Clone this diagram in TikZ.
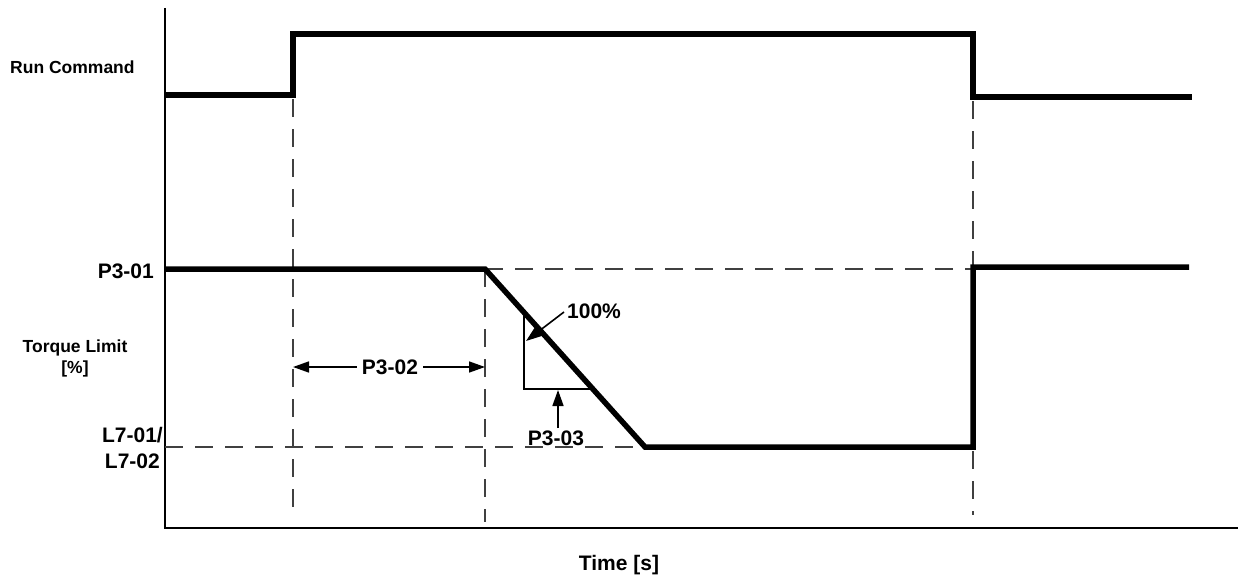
\documentclass[tikz,border=0pt]{standalone}
\usepackage{fontspec}
\setmainfont{Liberation Sans}
\usetikzlibrary{arrows.meta}
\begin{document}
\begin{tikzpicture}[x=1pt,y=-1pt,
  sig/.style={line width=5.5pt, line join=miter},
  axisline/.style={line width=2.8pt},
  guide/.style={line width=1.4pt, dash pattern=on 18pt off 12pt, draw=black!75},
  thinline/.style={line width=1.5pt},
  dim/.style={line width=1.6pt, -{Triangle[length=16pt,width=11pt]}},
  lbl/.style={font=\fontsize{21}{24}\selectfont\bfseries, inner sep=0pt},
  slbl/.style={font=\fontsize{17.5}{21}\selectfont\bfseries, inner sep=0pt}]
\useasboundingbox (0,0) rectangle (1238,578);
% axes
\coordinate (ytop) at (165,8);
\coordinate (o) at (165,528);
\coordinate (xend) at (1238,528);
\draw[axisline] (ytop) -- (o) -- (xend);
% key coordinates
\coordinate (r0) at (165,95);
\coordinate (r1) at (293,95);
\coordinate (r2) at (293,34);
\coordinate (r3) at (973,34);
\coordinate (r4) at (973,97);
\coordinate (r5) at (1192,97);
\coordinate (t0) at (165,269);
\coordinate (t1) at (485,269);
\coordinate (t2) at (645,447);
\coordinate (t3) at (973,447);
\coordinate (t4) at (973,267);
\coordinate (t5) at (1189,267);
% guides
\coordinate (g1a) at (293,99);
\coordinate (g1b) at (293,515);
\coordinate (g2b) at (485,522);
\coordinate (g3a) at (973,101);
\coordinate (g3b) at (973,265);
\coordinate (g4a) at (973,451);
\coordinate (g4b) at (973,515);
\coordinate (h1b) at (973,269);
\coordinate (h2a) at (165,447);
\draw[guide] (g1a) -- (g1b);
\draw[guide] (t1) -- (g2b);
\draw[guide] (g3a) -- (g3b);
\draw[guide] (g4a) -- (g4b);
\draw[guide] (t1) -- (h1b);
\draw[guide] (h2a) -- (t2);
% signals
\draw[sig] (r0) -- (r1) -- (r2) -- (r3) -- (r4) -- (r5);
\draw[sig] (t0) -- (t1) -- (t2) -- (t3) -- (t4) -- (t5);
% P3-02 dimension
\node[lbl, inner xsep=5pt] (p302) at (390,367) {P3-02};
\coordinate (d1) at (293,367);
\coordinate (d2) at (485,367);
\draw[dim] (p302.west) -- (d1);
\draw[dim] (p302.east) -- (d2);
% slope triangle
\coordinate (s1) at (524,312);
\coordinate (s2) at (524,389);
\coordinate (s3) at (593,389);
\draw[thinline] (s1) -- (s2) -- (s3);
% 100% label
\node[lbl, anchor=base west] (pct) at (567,318) {100\%};
\coordinate (pa) at (564,312);
\coordinate (pb) at (526,341);
\draw[dim] (pa) -- (pb);
% P3-03 label
\node[lbl, anchor=base] (p303) at (556,445) {P3-03};
\coordinate (qa) at (558,428);
\coordinate (qb) at (558,390);
\draw[dim] (qa) -- (qb);
% axis labels
\node[slbl, anchor=base west] (run) at (10,73) {Run Command};
\node[lbl, anchor=base east] (p301) at (154,278) {P3-01};
\node[slbl, anchor=base] (tl) at (75,352) {Torque Limit};
\node[slbl, anchor=base] (pc) at (75,373) {[\%]};
\node[lbl, anchor=base east] (l701) at (163,442) {L7-01/};
\node[lbl, anchor=base east] (l702) at (160,468) {L7-02};
\node[lbl, anchor=base] (time) at (619,570) {Time [s]};
\end{tikzpicture}
\end{document}
